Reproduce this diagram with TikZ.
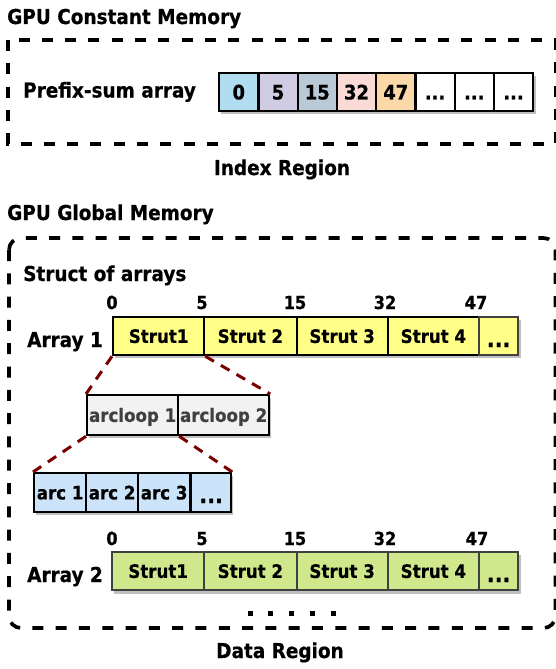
\documentclass[tikz,border=0pt]{standalone}
\usepackage{fontspec}
\setmainfont{DejaVu Sans}[FakeStretch=0.9,BoldFeatures={FakeBold=0.6}]
\usetikzlibrary{backgrounds}
\definecolor{cA}{RGB}{176,221,240}
\definecolor{cB}{RGB}{208,204,228}
\definecolor{cC}{RGB}{185,202,214}
\definecolor{cD}{RGB}{250,218,213}
\definecolor{cE}{RGB}{250,216,168}
\definecolor{yel}{RGB}{255,255,136}
\definecolor{grn}{RGB}{208,232,140}
\definecolor{lgr}{RGB}{242,242,242}
\definecolor{lblu}{RGB}{204,228,250}
\definecolor{dred}{RGB}{122,0,0}
\definecolor{shd}{RGB}{192,192,192}
\definecolor{dgr}{RGB}{64,64,64}
\newcommand\fsz[1]{\fontsize{#1}{#1}\selectfont\bfseries}
\newcommand\mydots{...}
\begin{document}
\begin{tikzpicture}[x=1pt,y=-1pt,
  lbl/.style={font=\fsz{20.5},inner sep=0pt,anchor=base west},
  ctr/.style={font=\fsz{20.5},inner sep=0pt,anchor=base},
  num/.style={font=\fsz{18},inner sep=0pt,anchor=base},
  cellbox/.style={draw=black,line width=2.3pt,inner sep=0pt,anchor=north west,
    text height=13.5pt,text depth=0pt,font=\fsz{18.5}},
  pcell/.style={cellbox,minimum width=39.25pt,minimum height=38pt,
    text height=14.6pt,font=\fsz{20}},
  scell/.style={cellbox,minimum height=38pt},
  dotcell/.style={font=\fsz{23},text height=22pt},
  acell/.style={cellbox,minimum height=39pt,fill=lblu,minimum width=52pt},
  lcell/.style={cellbox,minimum height=40pt,fill=lgr,text=dgr,minimum width=91pt},
  dbox/.style={draw=black,line width=3.7pt,dash pattern=on 11pt off 12.3pt},
  zoomline/.style={draw=dred,line width=3pt,dash pattern=on 10pt off 8pt},
  shadow/.style={fill=shd}]
\useasboundingbox (0,0) rectangle (555,669);

% ---------- constant memory ----------
\node[lbl] (gcm) at (7,24) {GPU Constant Memory};
\draw[dbox] (8,40) rectangle (555.5,144);
\node[lbl] (psa) at (23,97.5) {Prefix-sum array};
\fill[shadow] (221,76) rectangle (535.5,114);
\foreach \i/\t/\c in {1/0/cA,2/5/cB,3/15/cC,4/32/cD,5/47/cE,6/\mydots/white,7/\mydots/white,8/\mydots/white}
  \node[pcell,fill=\c] (p\i) at ({218+(\i-1)*39.25},72) {\t};
\node[ctr] (ir) at (282,175) {Index Region};

% ---------- global memory ----------
\node[lbl] (ggm) at (7,220) {GPU Global Memory};
\draw[dbox,rounded corners=12pt] (9,238) rectangle (555.5,628);
\node[lbl] (soa) at (23,281) {Struct of arrays};

% Array 1
\node[lbl] (a1) at (27,347) {Array 1};
\fill[shadow] (115,320) rectangle (521,358);
\node[scell,fill=yel,minimum width=91pt]   (s11) at (112,316) {Strut1};
\node[scell,fill=yel,minimum width=92.5pt] (s12) at (203,316) {Strut 2};
\node[scell,fill=yel,minimum width=91pt]   (s13) at (295.5,316) {Strut 3};
\node[scell,fill=yel,minimum width=91.5pt] (s14) at (386.5,316) {Strut 4};
\node[scell,fill=yel,draw=dgr,minimum width=39pt,dotcell] (s15) at (478,316) {\mydots};
\node[num] (n10) at (112,309) {0};
\node[num] (n11) at (202,309) {5};
\node[num] (n12) at (295,309) {15};
\node[num] (n13) at (385,309) {32};
\node[num] (n14) at (476,309) {47};

% arcloops
\fill[shadow] (89,398) rectangle (271,438);
\node[lcell] (l1) at (86,394) {arcloop 1};
\node[lcell] (l2) at (177,394) {arcloop 2};

% arcs
\fill[shadow] (36,476) rectangle (233,515);
\node[acell] (c1) at (33,472) {arc 1};
\node[acell] (c2) at (85,472) {arc 2};
\node[acell] (c3) at (137,472) {arc 3};
\node[acell,minimum width=40pt,dotcell,text height=21pt] (c4) at (190,472) {\mydots};

% zoom lines
\draw[zoomline] (s11.south west) -- (l1.north west);
\draw[zoomline] (s11.south east) -- (l2.north east);
\draw[zoomline] (l1.south west) -- (c1.north west);
\draw[zoomline] (l1.south east) -- (c4.north east);

% Array 2
\node[lbl] (a2) at (27,582) {Array 2};
\fill[shadow] (114,555) rectangle (521,594);
\node[scell,fill=grn,draw=dgr,minimum width=92pt]   (s21) at (111,551) {Strut1};
\node[scell,fill=grn,draw=dgr,minimum width=92.5pt] (s22) at (203,551) {Strut 2};
\node[scell,fill=grn,draw=dgr,minimum width=91pt]   (s23) at (295.5,551) {Strut 3};
\node[scell,fill=grn,draw=dgr,minimum width=91.5pt] (s24) at (386.5,551) {Strut 4};
\node[scell,fill=grn,draw=dgr,minimum width=39pt,dotcell] (s25) at (478,551) {\mydots};
\node[num] (n20) at (112,545) {0};
\node[num] (n21) at (202,545) {5};
\node[num] (n22) at (295,545) {15};
\node[num] (n23) at (385,545) {32};
\node[num] (n24) at (477,545) {47};

% dots
\foreach \x in {250,270.5,291,312,333}
  \fill (\x-2.5,610.5) rectangle (\x+2.5,615.5);

\node[ctr] (dr) at (280,658) {Data Region};
\end{tikzpicture}
\end{document}
